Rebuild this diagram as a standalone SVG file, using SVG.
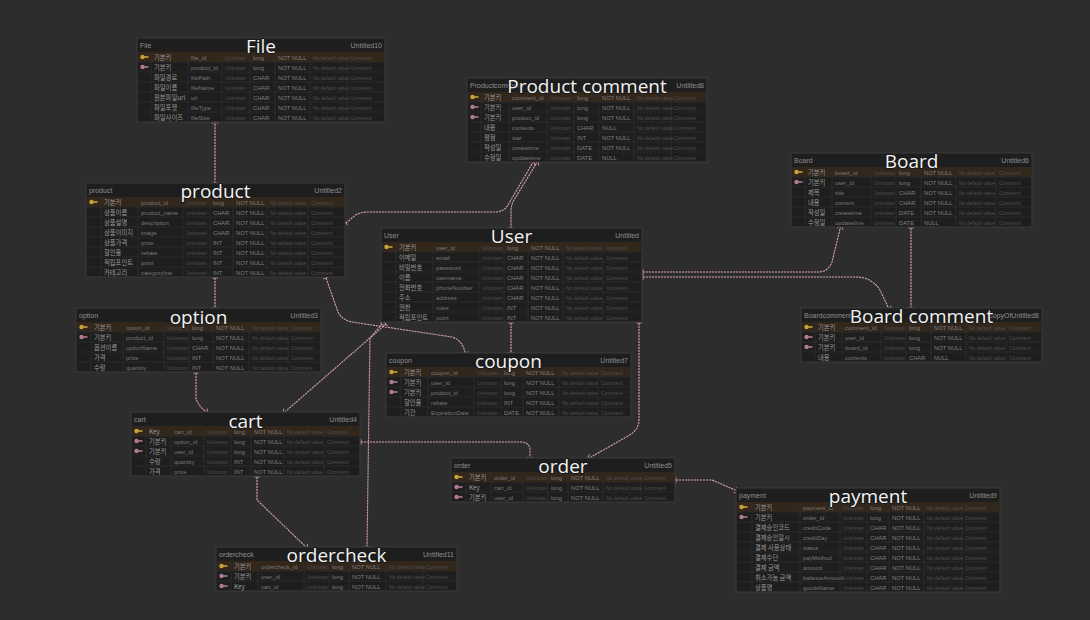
<svg xmlns="http://www.w3.org/2000/svg" width="1090" height="620" viewBox="0 0 1090 620">
<defs>
<style>
.tb{fill:#1e1e1e;stroke:#3a3a3a;stroke-width:1}
.pk{fill:#33261b}
.rl{stroke:#2c2c2c;stroke-width:0.8}
.cl{stroke:#2e2e2e;stroke-width:0.8}
.hl{font-family:"Liberation Sans","Noto Sans CJK KR",sans-serif;font-size:7px;fill:#8e8e8e}
.hr{font-family:"Liberation Sans","Noto Sans CJK KR",sans-serif;font-size:7px;fill:#8e8e8e;text-anchor:end}
.ti{font-family:"Open Sans","Noto Sans",sans-serif;font-size:19px;fill:#f2f2f2;text-anchor:middle;paint-order:stroke;stroke:#1a1a1a;stroke-width:2px}
.r{font-family:"Liberation Sans","Noto Sans CJK KR",sans-serif;font-size:5.8px}
.l{fill:#9a9a9a;font-family:"Noto Sans CJK KR",sans-serif;font-size:6.3px}
.p{fill:#7a7a7a}
.t{fill:#7f7f7f}
.d{fill:#505050;font-size:5px}
.cn{fill:none;stroke:#d3a0ae;stroke-width:1.1;stroke-dasharray:2.2 0.8}
.ky{fill:#c9a23a}
.kf{fill:#b07a96}
</style>
<g id="kY"><circle cx="4.5" cy="5" r="2.2" class="ky"/><rect x="5.5" y="4.2" width="5" height="1.6" class="ky"/></g>
<g id="kF"><circle cx="4.5" cy="5" r="2.2" class="kf"/><rect x="5.5" y="4.2" width="5" height="1.6" class="kf"/></g>
<marker id="mo" viewBox="0 0 10 10" refX="1" refY="5" markerWidth="7" markerHeight="7" orient="auto-start-reverse" markerUnits="userSpaceOnUse">
<path d="M1 1 V9" stroke="#d3a0ae" stroke-width="1.2" fill="none"/>
</marker>
<marker id="mm" viewBox="0 0 10 10" refX="1" refY="5" markerWidth="8" markerHeight="8" orient="auto-start-reverse" markerUnits="userSpaceOnUse">
<path d="M1 1 L6 5 L1 9 M6 5 H1" stroke="#d3a0ae" stroke-width="1" fill="none"/>
<circle cx="7.5" cy="5" r="1.6" stroke="#d3a0ae" stroke-width="1" fill="none"/>
</marker>
</defs>
<rect width="1090" height="620" fill="#2d2d2d"/>

<g id="connectors">
<path class="cn" d="M215,124 L215,183" marker-start="url(#mm)" marker-end="url(#mo)"/>
<path class="cn" d="M532,164 L508,205 Q504,212 495,212 L368,212 Q358,212 352,218 L346,223" marker-start="url(#mm)" marker-end="url(#mo)"/>
<path class="cn" d="M536,164 L514,200 Q511,205 511,212 L511,228" marker-start="url(#mm)" marker-end="url(#mo)"/>
<path class="cn" d="M643,272 L818,272 Q828,272 832,262 L840,229" marker-start="url(#mo)" marker-end="url(#mm)"/>
<path class="cn" d="M643,277 L858,277 Q872,278 880,290 L888,307" marker-start="url(#mo)" marker-end="url(#mm)"/>
<path class="cn" d="M911,228 L911,307" marker-start="url(#mo)" marker-end="url(#mm)"/>
<path class="cn" d="M215,278 L215,307" marker-start="url(#mo)" marker-end="url(#mm)"/>
<path class="cn" d="M326,278 L338,312 Q342,320 352,322 L452,337 Q462,340 465,352" marker-start="url(#mo)" marker-end="url(#mm)"/>
<path class="cn" d="M511,323 L511,352" marker-start="url(#mo)" marker-end="url(#mm)"/>
<path class="cn" d="M386,324 L286,411" marker-start="url(#mo)" marker-end="url(#mm)"/>
<path class="cn" d="M382,324 L370,338 L367,546" marker-start="url(#mo)" marker-end="url(#mm)"/>
<path class="cn" d="M196,373 L196,398 Q197,404 205,411" marker-start="url(#mo)" marker-end="url(#mm)"/>
<path class="cn" d="M639,323 L639,420 Q639,430 628,436 L591,457" marker-start="url(#mo)" marker-end="url(#mm)"/>
<path class="cn" d="M361,442 L522,442 Q530,443 530,450 L530,457" marker-start="url(#mo)" marker-end="url(#mm)"/>
<path class="cn" d="M257,477 L257,500 L305,546" marker-start="url(#mo)" marker-end="url(#mm)"/>
<path class="cn" d="M676,480 L712,480 L735,490" marker-start="url(#mo)" marker-end="url(#mm)"/>
</g>

<!-- File -->
<g id="file" transform="translate(137,38)">
<rect class="tb" x="0" y="0" width="248" height="84"/>
<rect class="pk" x="1" y="14" width="246" height="10"/>
<path class="rl" d="M1 24H247M1 34H247M1 44H247M1 54H247M1 64H247M1 74H247"/>
<path class="cl" d="M14 14V84M51 14V84M85 14V84M113 14V84M138 14V84M173 14V84M210 14V84"/>
<text class="hl" x="3" y="9.5">File</text><text class="hr" x="245" y="9.5">Untitled10</text>
<use href="#kY" x="1" y="14"/><use href="#kF" x="1" y="24"/>
<g class="r">
<text y="21.5"><tspan x="17" class="l">기본키</tspan><tspan x="54" class="p">file_id</tspan><tspan x="88" class="d">Unknown</tspan><tspan x="116" class="t">long</tspan><tspan x="141" class="t">NOT NULL</tspan><tspan x="176" class="d">No default value</tspan><tspan x="213" class="d">Comment</tspan></text>
<text y="31.5"><tspan x="17" class="l">기본키</tspan><tspan x="54" class="p">product_id</tspan><tspan x="88" class="d">Unknown</tspan><tspan x="116" class="t">long</tspan><tspan x="141" class="t">NOT NULL</tspan><tspan x="176" class="d">No default value</tspan><tspan x="213" class="d">Comment</tspan></text>
<text y="41.5"><tspan x="17" class="l">파일경로</tspan><tspan x="54" class="p">filePath</tspan><tspan x="88" class="d">Unknown</tspan><tspan x="116" class="t">CHAR</tspan><tspan x="141" class="t">NOT NULL</tspan><tspan x="176" class="d">No default value</tspan><tspan x="213" class="d">Comment</tspan></text>
<text y="51.5"><tspan x="17" class="l">파일이름</tspan><tspan x="54" class="p">fileName</tspan><tspan x="88" class="d">Unknown</tspan><tspan x="116" class="t">CHAR</tspan><tspan x="141" class="t">NOT NULL</tspan><tspan x="176" class="d">No default value</tspan><tspan x="213" class="d">Comment</tspan></text>
<text y="61.5"><tspan x="17" class="l">원본파일url</tspan><tspan x="54" class="p">url</tspan><tspan x="88" class="d">Unknown</tspan><tspan x="116" class="t">CHAR</tspan><tspan x="141" class="t">NOT NULL</tspan><tspan x="176" class="d">No default value</tspan><tspan x="213" class="d">Comment</tspan></text>
<text y="71.5"><tspan x="17" class="l">파일포맷</tspan><tspan x="54" class="p">fileType</tspan><tspan x="88" class="d">Unknown</tspan><tspan x="116" class="t">CHAR</tspan><tspan x="141" class="t">NOT NULL</tspan><tspan x="176" class="d">No default value</tspan><tspan x="213" class="d">Comment</tspan></text>
<text y="81.5"><tspan x="17" class="l">파일사이즈</tspan><tspan x="54" class="p">fileSize</tspan><tspan x="88" class="d">Unknown</tspan><tspan x="116" class="t">CHAR</tspan><tspan x="141" class="t">NOT NULL</tspan><tspan x="176" class="d">No default value</tspan><tspan x="213" class="d">Comment</tspan></text>
</g>
<text class="ti" x="124" y="15">File</text>
</g>

<!-- Product comment -->
<g id="product-comment" transform="translate(467,78)">
<rect class="tb" x="0" y="0" width="240" height="84"/>
<rect class="pk" x="1" y="14" width="238" height="10"/>
<path class="rl" d="M1 24H239M1 34H239M1 44H239M1 54H239M1 64H239M1 74H239"/>
<path class="cl" d="M14 14V84M42 14V84M80 14V84M107 14V84M132 14V84M167 14V84M204 14V84"/>
<text class="hl" x="3" y="9.5">Productcomment</text><text class="hr" x="237" y="9.5">Untitled8</text>
<use href="#kY" x="1" y="14"/><use href="#kF" x="1" y="24"/><use href="#kF" x="1" y="34"/>
<g class="r">
<text y="21.5"><tspan x="17" class="l">기본키</tspan><tspan x="45" class="p">comment_id</tspan><tspan x="83" class="d">Unknown</tspan><tspan x="110" class="t">long</tspan><tspan x="135" class="t">NOT NULL</tspan><tspan x="170" class="d">No default value</tspan><tspan x="207" class="d">Comment</tspan></text>
<text y="31.5"><tspan x="17" class="l">기본키</tspan><tspan x="45" class="p">user_id</tspan><tspan x="83" class="d">Unknown</tspan><tspan x="110" class="t">long</tspan><tspan x="135" class="t">NOT NULL</tspan><tspan x="170" class="d">No default value</tspan><tspan x="207" class="d">Comment</tspan></text>
<text y="41.5"><tspan x="17" class="l">기본키</tspan><tspan x="45" class="p">product_id</tspan><tspan x="83" class="d">Unknown</tspan><tspan x="110" class="t">long</tspan><tspan x="135" class="t">NOT NULL</tspan><tspan x="170" class="d">No default value</tspan><tspan x="207" class="d">Comment</tspan></text>
<text y="51.5"><tspan x="17" class="l">내용</tspan><tspan x="45" class="p">contents</tspan><tspan x="83" class="d">Unknown</tspan><tspan x="110" class="t">CHAR</tspan><tspan x="135" class="t">NULL</tspan><tspan x="170" class="d">No default value</tspan><tspan x="207" class="d">Comment</tspan></text>
<text y="61.5"><tspan x="17" class="l">평점</tspan><tspan x="45" class="p">star</tspan><tspan x="83" class="d">Unknown</tspan><tspan x="110" class="t">INT</tspan><tspan x="135" class="t">NOT NULL</tspan><tspan x="170" class="d">No default value</tspan><tspan x="207" class="d">Comment</tspan></text>
<text y="71.5"><tspan x="17" class="l">작성일</tspan><tspan x="45" class="p">createtime</tspan><tspan x="83" class="d">Unknown</tspan><tspan x="110" class="t">DATE</tspan><tspan x="135" class="t">NOT NULL</tspan><tspan x="170" class="d">No default value</tspan><tspan x="207" class="d">Comment</tspan></text>
<text y="81.5"><tspan x="17" class="l">수정일</tspan><tspan x="45" class="p">updatetime</tspan><tspan x="83" class="d">Unknown</tspan><tspan x="110" class="t">DATE</tspan><tspan x="135" class="t">NULL</tspan><tspan x="170" class="d">No default value</tspan><tspan x="207" class="d">Comment</tspan></text>
</g>
<text class="ti" x="120" y="15">Product comment</text>
</g>

<!-- product -->
<g id="product" transform="translate(86,183)">
<rect class="tb" x="0" y="0" width="259" height="94"/>
<rect class="pk" x="1" y="14" width="257" height="10"/>
<path class="rl" d="M1 24H258M1 34H258M1 44H258M1 54H258M1 64H258M1 74H258M1 84H258"/>
<path class="cl" d="M15 14V94M52 14V94M97 14V94M124 14V94M147 14V94M181 14V94M222 14V94"/>
<text class="hl" x="3" y="9.5">product</text><text class="hr" x="256" y="9.5">Untitled2</text>
<use href="#kY" x="1" y="14"/>
<g class="r">
<text y="21.5"><tspan x="18" class="l">기본키</tspan><tspan x="55" class="p">product_id</tspan><tspan x="100" class="d">Unknown</tspan><tspan x="127" class="t">long</tspan><tspan x="150" class="t">NOT NULL</tspan><tspan x="184" class="d">No default value</tspan><tspan x="225" class="d">Comment</tspan></text>
<text y="31.5"><tspan x="18" class="l">상품이름</tspan><tspan x="55" class="p">product_name</tspan><tspan x="100" class="d">Unknown</tspan><tspan x="127" class="t">CHAR</tspan><tspan x="150" class="t">NOT NULL</tspan><tspan x="184" class="d">No default value</tspan><tspan x="225" class="d">Comment</tspan></text>
<text y="41.5"><tspan x="18" class="l">상품설명</tspan><tspan x="55" class="p">description</tspan><tspan x="100" class="d">Unknown</tspan><tspan x="127" class="t">CHAR</tspan><tspan x="150" class="t">NOT NULL</tspan><tspan x="184" class="d">No default value</tspan><tspan x="225" class="d">Comment</tspan></text>
<text y="51.5"><tspan x="18" class="l">상품이미지</tspan><tspan x="55" class="p">image</tspan><tspan x="100" class="d">Unknown</tspan><tspan x="127" class="t">CHAR</tspan><tspan x="150" class="t">NOT NULL</tspan><tspan x="184" class="d">No default value</tspan><tspan x="225" class="d">Comment</tspan></text>
<text y="61.5"><tspan x="18" class="l">상품가격</tspan><tspan x="55" class="p">price</tspan><tspan x="100" class="d">Unknown</tspan><tspan x="127" class="t">INT</tspan><tspan x="150" class="t">NOT NULL</tspan><tspan x="184" class="d">No default value</tspan><tspan x="225" class="d">Comment</tspan></text>
<text y="71.5"><tspan x="18" class="l">할인율</tspan><tspan x="55" class="p">rebate</tspan><tspan x="100" class="d">Unknown</tspan><tspan x="127" class="t">INT</tspan><tspan x="150" class="t">NOT NULL</tspan><tspan x="184" class="d">No default value</tspan><tspan x="225" class="d">Comment</tspan></text>
<text y="81.5"><tspan x="18" class="l">적립포인트</tspan><tspan x="55" class="p">point</tspan><tspan x="100" class="d">Unknown</tspan><tspan x="127" class="t">INT</tspan><tspan x="150" class="t">NOT NULL</tspan><tspan x="184" class="d">No default value</tspan><tspan x="225" class="d">Comment</tspan></text>
<text y="91.5"><tspan x="18" class="l">카테고리</tspan><tspan x="55" class="p">categoryline</tspan><tspan x="100" class="d">Unknown</tspan><tspan x="127" class="t">INT</tspan><tspan x="150" class="t">NOT NULL</tspan><tspan x="184" class="d">No default value</tspan><tspan x="225" class="d">Comment</tspan></text>
</g>
<text class="ti" x="129.5" y="15">product</text>
</g>

<!-- User -->
<g id="user" transform="translate(381,228)">
<rect class="tb" x="0" y="0" width="261" height="94"/>
<rect class="pk" x="1" y="14" width="259" height="10"/>
<path class="rl" d="M1 24H260M1 34H260M1 44H260M1 54H260M1 64H260M1 74H260M1 84H260"/>
<path class="cl" d="M15 14V94M52 14V94M98 14V94M123 14V94M147 14V94M182 14V94M222 14V94"/>
<text class="hl" x="3" y="9.5">User</text><text class="hr" x="258" y="9.5">Untitled</text>
<use href="#kY" x="1" y="14"/>
<g class="r">
<text y="21.5"><tspan x="18" class="l">기본키</tspan><tspan x="55" class="p">user_id</tspan><tspan x="101" class="d">Unknown</tspan><tspan x="126" class="t">long</tspan><tspan x="150" class="t">NOT NULL</tspan><tspan x="185" class="d">No default value</tspan><tspan x="225" class="d">Comment</tspan></text>
<text y="31.5"><tspan x="18" class="l">이메일</tspan><tspan x="55" class="p">email</tspan><tspan x="101" class="d">Unknown</tspan><tspan x="126" class="t">CHAR</tspan><tspan x="150" class="t">NOT NULL</tspan><tspan x="185" class="d">No default value</tspan><tspan x="225" class="d">Comment</tspan></text>
<text y="41.5"><tspan x="18" class="l">비밀번호</tspan><tspan x="55" class="p">password</tspan><tspan x="101" class="d">Unknown</tspan><tspan x="126" class="t">CHAR</tspan><tspan x="150" class="t">NOT NULL</tspan><tspan x="185" class="d">No default value</tspan><tspan x="225" class="d">Comment</tspan></text>
<text y="51.5"><tspan x="18" class="l">이름</tspan><tspan x="55" class="p">username</tspan><tspan x="101" class="d">Unknown</tspan><tspan x="126" class="t">CHAR</tspan><tspan x="150" class="t">NOT NULL</tspan><tspan x="185" class="d">No default value</tspan><tspan x="225" class="d">Comment</tspan></text>
<text y="61.5"><tspan x="18" class="l">전화번호</tspan><tspan x="55" class="p">phoneNumber</tspan><tspan x="101" class="d">Unknown</tspan><tspan x="126" class="t">CHAR</tspan><tspan x="150" class="t">NOT NULL</tspan><tspan x="185" class="d">No default value</tspan><tspan x="225" class="d">Comment</tspan></text>
<text y="71.5"><tspan x="18" class="l">주소</tspan><tspan x="55" class="p">address</tspan><tspan x="101" class="d">Unknown</tspan><tspan x="126" class="t">CHAR</tspan><tspan x="150" class="t">NOT NULL</tspan><tspan x="185" class="d">No default value</tspan><tspan x="225" class="d">Comment</tspan></text>
<text y="81.5"><tspan x="18" class="l">권한</tspan><tspan x="55" class="p">roles</tspan><tspan x="101" class="d">Unknown</tspan><tspan x="126" class="t">INT</tspan><tspan x="150" class="t">NOT NULL</tspan><tspan x="185" class="d">No default value</tspan><tspan x="225" class="d">Comment</tspan></text>
<text y="91.5"><tspan x="18" class="l">적립포인트</tspan><tspan x="55" class="p">point</tspan><tspan x="101" class="d">Unknown</tspan><tspan x="126" class="t">INT</tspan><tspan x="150" class="t">NOT NULL</tspan><tspan x="185" class="d">No default value</tspan><tspan x="225" class="d">Comment</tspan></text>
</g>
<text class="ti" x="130.5" y="15">User</text>
</g>

<!-- Board -->
<g id="board" transform="translate(791,153)">
<rect class="tb" x="0" y="0" width="241" height="74"/>
<rect class="pk" x="1" y="14" width="239" height="10"/>
<path class="rl" d="M1 24H240M1 34H240M1 44H240M1 54H240M1 64H240"/>
<path class="cl" d="M14 14V74M41 14V74M80 14V74M105 14V74M130 14V74M165 14V74M205 14V74"/>
<text class="hl" x="3" y="9.5">Board</text><text class="hr" x="238" y="9.5">Untitled6</text>
<use href="#kY" x="1" y="14"/><use href="#kF" x="1" y="24"/>
<g class="r">
<text y="21.5"><tspan x="17" class="l">기본키</tspan><tspan x="44" class="p">board_id</tspan><tspan x="83" class="d">Unknown</tspan><tspan x="108" class="t">long</tspan><tspan x="133" class="t">NOT NULL</tspan><tspan x="168" class="d">No default value</tspan><tspan x="208" class="d">Comment</tspan></text>
<text y="31.5"><tspan x="17" class="l">기본키</tspan><tspan x="44" class="p">user_id</tspan><tspan x="83" class="d">Unknown</tspan><tspan x="108" class="t">long</tspan><tspan x="133" class="t">NOT NULL</tspan><tspan x="168" class="d">No default value</tspan><tspan x="208" class="d">Comment</tspan></text>
<text y="41.5"><tspan x="17" class="l">제목</tspan><tspan x="44" class="p">title</tspan><tspan x="83" class="d">Unknown</tspan><tspan x="108" class="t">CHAR</tspan><tspan x="133" class="t">NOT NULL</tspan><tspan x="168" class="d">No default value</tspan><tspan x="208" class="d">Comment</tspan></text>
<text y="51.5"><tspan x="17" class="l">내용</tspan><tspan x="44" class="p">content</tspan><tspan x="83" class="d">Unknown</tspan><tspan x="108" class="t">CHAR</tspan><tspan x="133" class="t">NOT NULL</tspan><tspan x="168" class="d">No default value</tspan><tspan x="208" class="d">Comment</tspan></text>
<text y="61.5"><tspan x="17" class="l">작성일</tspan><tspan x="44" class="p">createtime</tspan><tspan x="83" class="d">Unknown</tspan><tspan x="108" class="t">DATE</tspan><tspan x="133" class="t">NOT NULL</tspan><tspan x="168" class="d">No default value</tspan><tspan x="208" class="d">Comment</tspan></text>
<text y="71.5"><tspan x="17" class="l">수정일</tspan><tspan x="44" class="p">updatetime</tspan><tspan x="83" class="d">Unknown</tspan><tspan x="108" class="t">DATE</tspan><tspan x="133" class="t">NULL</tspan><tspan x="168" class="d">No default value</tspan><tspan x="208" class="d">Comment</tspan></text>
</g>
<text class="ti" x="120.5" y="15">Board</text>
</g>

<!-- Board comment -->
<g id="board-comment" transform="translate(801,308)">
<rect class="tb" x="0" y="0" width="241" height="54"/>
<rect class="pk" x="1" y="14" width="239" height="10"/>
<path class="rl" d="M1 24H240M1 34H240M1 44H240"/>
<path class="cl" d="M14 14V54M41 14V54M80 14V54M105 14V54M130 14V54M165 14V54M205 14V54"/>
<text class="hl" x="3" y="9.5">Boardcomment</text><text class="hr" x="238" y="9.5">copyOfUntitled8</text>
<use href="#kY" x="1" y="14"/><use href="#kF" x="1" y="24"/><use href="#kF" x="1" y="34"/>
<g class="r">
<text y="21.5"><tspan x="17" class="l">기본키</tspan><tspan x="44" class="p">comment_id</tspan><tspan x="83" class="d">Unknown</tspan><tspan x="108" class="t">long</tspan><tspan x="133" class="t">NOT NULL</tspan><tspan x="168" class="d">No default value</tspan><tspan x="208" class="d">Comment</tspan></text>
<text y="31.5"><tspan x="17" class="l">기본키</tspan><tspan x="44" class="p">user_id</tspan><tspan x="83" class="d">Unknown</tspan><tspan x="108" class="t">long</tspan><tspan x="133" class="t">NOT NULL</tspan><tspan x="168" class="d">No default value</tspan><tspan x="208" class="d">Comment</tspan></text>
<text y="41.5"><tspan x="17" class="l">기본키</tspan><tspan x="44" class="p">board_id</tspan><tspan x="83" class="d">Unknown</tspan><tspan x="108" class="t">long</tspan><tspan x="133" class="t">NOT NULL</tspan><tspan x="168" class="d">No default value</tspan><tspan x="208" class="d">Comment</tspan></text>
<text y="51.5"><tspan x="17" class="l">내용</tspan><tspan x="44" class="p">contents</tspan><tspan x="83" class="d">Unknown</tspan><tspan x="108" class="t">CHAR</tspan><tspan x="133" class="t">NULL</tspan><tspan x="168" class="d">No default value</tspan><tspan x="208" class="d">Comment</tspan></text>
</g>
<text class="ti" x="120.5" y="15">Board comment</text>
</g>

<!-- option -->
<g id="option" transform="translate(76,308)">
<rect class="tb" x="0" y="0" width="245" height="64"/>
<rect class="pk" x="1" y="14" width="243" height="10"/>
<path class="rl" d="M1 24H244M1 34H244M1 44H244M1 54H244"/>
<path class="cl" d="M15 14V64M47 14V64M88 14V64M113 14V64M137 14V64M173 14V64M212 14V64"/>
<text class="hl" x="3" y="9.5">option</text><text class="hr" x="242" y="9.5">Untitled3</text>
<use href="#kY" x="1" y="14"/><use href="#kF" x="1" y="24"/>
<g class="r">
<text y="21.5"><tspan x="18" class="l">기본키</tspan><tspan x="50" class="p">option_id</tspan><tspan x="91" class="d">Unknown</tspan><tspan x="116" class="t">long</tspan><tspan x="140" class="t">NOT NULL</tspan><tspan x="176" class="d">No default value</tspan><tspan x="215" class="d">Comment</tspan></text>
<text y="31.5"><tspan x="18" class="l">기본키</tspan><tspan x="50" class="p">product_id</tspan><tspan x="91" class="d">Unknown</tspan><tspan x="116" class="t">long</tspan><tspan x="140" class="t">NOT NULL</tspan><tspan x="176" class="d">No default value</tspan><tspan x="215" class="d">Comment</tspan></text>
<text y="41.5"><tspan x="18" class="l">옵션이름</tspan><tspan x="50" class="p">optionName</tspan><tspan x="91" class="d">Unknown</tspan><tspan x="116" class="t">CHAR</tspan><tspan x="140" class="t">NOT NULL</tspan><tspan x="176" class="d">No default value</tspan><tspan x="215" class="d">Comment</tspan></text>
<text y="51.5"><tspan x="18" class="l">가격</tspan><tspan x="50" class="p">price</tspan><tspan x="91" class="d">Unknown</tspan><tspan x="116" class="t">INT</tspan><tspan x="140" class="t">NOT NULL</tspan><tspan x="176" class="d">No default value</tspan><tspan x="215" class="d">Comment</tspan></text>
<text y="61.5"><tspan x="18" class="l">수량</tspan><tspan x="50" class="p">quantity</tspan><tspan x="91" class="d">Unknown</tspan><tspan x="116" class="t">INT</tspan><tspan x="140" class="t">NOT NULL</tspan><tspan x="176" class="d">No default value</tspan><tspan x="215" class="d">Comment</tspan></text>
</g>
<text class="ti" x="122.5" y="16">option</text>
</g>

<!-- coupon -->
<g id="coupon" transform="translate(386,353)">
<rect class="tb" x="0" y="0" width="245" height="64"/>
<rect class="pk" x="1" y="14" width="243" height="10"/>
<path class="rl" d="M1 24H244M1 34H244M1 44H244M1 54H244"/>
<path class="cl" d="M15 14V64M42 14V64M88 14V64M115 14V64M137 14V64M173 14V64M212 14V64"/>
<text class="hl" x="3" y="9.5">coupon</text><text class="hr" x="242" y="9.5">Untitled7</text>
<use href="#kY" x="1" y="14"/><use href="#kF" x="1" y="24"/><use href="#kF" x="1" y="34"/>
<g class="r">
<text y="21.5"><tspan x="18" class="l">기본키</tspan><tspan x="45" class="p">coupon_id</tspan><tspan x="91" class="d">Unknown</tspan><tspan x="118" class="t">long</tspan><tspan x="140" class="t">NOT NULL</tspan><tspan x="176" class="d">No default value</tspan><tspan x="215" class="d">Comment</tspan></text>
<text y="31.5"><tspan x="18" class="l">기본키</tspan><tspan x="45" class="p">user_id</tspan><tspan x="91" class="d">Unknown</tspan><tspan x="118" class="t">long</tspan><tspan x="140" class="t">NOT NULL</tspan><tspan x="176" class="d">No default value</tspan><tspan x="215" class="d">Comment</tspan></text>
<text y="41.5"><tspan x="18" class="l">기본키</tspan><tspan x="45" class="p">product_id</tspan><tspan x="91" class="d">Unknown</tspan><tspan x="118" class="t">long</tspan><tspan x="140" class="t">NOT NULL</tspan><tspan x="176" class="d">No default value</tspan><tspan x="215" class="d">Comment</tspan></text>
<text y="51.5"><tspan x="18" class="l">할인율</tspan><tspan x="45" class="p">rebate</tspan><tspan x="91" class="d">Unknown</tspan><tspan x="118" class="t">INT</tspan><tspan x="140" class="t">NOT NULL</tspan><tspan x="176" class="d">No default value</tspan><tspan x="215" class="d">Comment</tspan></text>
<text y="61.5"><tspan x="18" class="l">기간</tspan><tspan x="45" class="p">ExpirationDate</tspan><tspan x="91" class="d">Unknown</tspan><tspan x="118" class="t">DATE</tspan><tspan x="140" class="t">NOT NULL</tspan><tspan x="176" class="d">No default value</tspan><tspan x="215" class="d">Comment</tspan></text>
</g>
<text class="ti" x="122.5" y="15">coupon</text>
</g>

<!-- cart -->
<g id="cart" transform="translate(131,412)">
<rect class="tb" x="0" y="0" width="229" height="64"/>
<rect class="pk" x="1" y="14" width="227" height="10"/>
<path class="rl" d="M1 24H228M1 34H228M1 44H228M1 54H228"/>
<path class="cl" d="M15 14V64M40 14V64M73 14V64M100 14V64M120 14V64M153 14V64M193 14V64"/>
<text class="hl" x="3" y="9.5">cart</text><text class="hr" x="226" y="9.5">Untitled4</text>
<use href="#kY" x="1" y="14"/><use href="#kF" x="1" y="24"/><use href="#kF" x="1" y="34"/>
<g class="r">
<text y="21.5"><tspan x="18" class="l">Key</tspan><tspan x="43" class="p">cart_id</tspan><tspan x="76" class="d">Unknown</tspan><tspan x="103" class="t">long</tspan><tspan x="123" class="t">NOT NULL</tspan><tspan x="156" class="d">No default value</tspan><tspan x="196" class="d">Comment</tspan></text>
<text y="31.5"><tspan x="18" class="l">기본키</tspan><tspan x="43" class="p">option_id</tspan><tspan x="76" class="d">Unknown</tspan><tspan x="103" class="t">long</tspan><tspan x="123" class="t">NOT NULL</tspan><tspan x="156" class="d">No default value</tspan><tspan x="196" class="d">Comment</tspan></text>
<text y="41.5"><tspan x="18" class="l">기본키</tspan><tspan x="43" class="p">user_id</tspan><tspan x="76" class="d">Unknown</tspan><tspan x="103" class="t">long</tspan><tspan x="123" class="t">NOT NULL</tspan><tspan x="156" class="d">No default value</tspan><tspan x="196" class="d">Comment</tspan></text>
<text y="51.5"><tspan x="18" class="l">수량</tspan><tspan x="43" class="p">quantity</tspan><tspan x="76" class="d">Unknown</tspan><tspan x="103" class="t">INT</tspan><tspan x="123" class="t">NOT NULL</tspan><tspan x="156" class="d">No default value</tspan><tspan x="196" class="d">Comment</tspan></text>
<text y="61.5"><tspan x="18" class="l">가격</tspan><tspan x="43" class="p">price</tspan><tspan x="76" class="d">Unknown</tspan><tspan x="103" class="t">INT</tspan><tspan x="123" class="t">NOT NULL</tspan><tspan x="156" class="d">No default value</tspan><tspan x="196" class="d">Comment</tspan></text>
</g>
<text class="ti" x="114.5" y="16">cart</text>
</g>

<!-- order -->
<g id="order" transform="translate(451,458)">
<rect class="tb" x="0" y="0" width="224" height="44"/>
<rect class="pk" x="1" y="14" width="222" height="10"/>
<path class="rl" d="M1 24H223M1 34H223"/>
<path class="cl" d="M15 14V44M40 14V44M72 14V44M97 14V44M117 14V44M152 14V44M190 14V44"/>
<text class="hl" x="3" y="9.5">order</text><text class="hr" x="221" y="9.5">Untitled5</text>
<use href="#kY" x="1" y="14"/><use href="#kF" x="1" y="24"/><use href="#kF" x="1" y="34"/>
<g class="r">
<text y="21.5"><tspan x="18" class="l">기본키</tspan><tspan x="43" class="p">order_id</tspan><tspan x="75" class="d">Unknown</tspan><tspan x="100" class="t">long</tspan><tspan x="120" class="t">NOT NULL</tspan><tspan x="155" class="d">No default value</tspan><tspan x="193" class="d">Comment</tspan></text>
<text y="31.5"><tspan x="18" class="l">Key</tspan><tspan x="43" class="p">cart_id</tspan><tspan x="75" class="d">Unknown</tspan><tspan x="100" class="t">long</tspan><tspan x="120" class="t">NOT NULL</tspan><tspan x="155" class="d">No default value</tspan><tspan x="193" class="d">Comment</tspan></text>
<text y="41.5"><tspan x="18" class="l">기본키</tspan><tspan x="43" class="p">user_id</tspan><tspan x="75" class="d">Unknown</tspan><tspan x="100" class="t">long</tspan><tspan x="120" class="t">NOT NULL</tspan><tspan x="155" class="d">No default value</tspan><tspan x="193" class="d">Comment</tspan></text>
</g>
<text class="ti" x="112" y="15">order</text>
</g>

<!-- payment -->
<g id="payment" transform="translate(736,488)">
<rect class="tb" x="0" y="0" width="264" height="104"/>
<rect class="pk" x="1" y="14" width="262" height="10"/>
<path class="rl" d="M1 24H263M1 34H263M1 44H263M1 54H263M1 64H263M1 74H263M1 84H263M1 94H263"/>
<path class="cl" d="M16 14V104M64 14V104M104 14V104M131 14V104M153 14V104M188 14V104M226 14V104"/>
<text class="hl" x="3" y="9.5">payment</text><text class="hr" x="261" y="9.5">Untitled9</text>
<use href="#kY" x="1" y="14"/><use href="#kF" x="1" y="24"/>
<g class="r">
<text y="21.5"><tspan x="19" class="l">기본키</tspan><tspan x="67" class="p">payment_id</tspan><tspan x="107" class="d">Unknown</tspan><tspan x="134" class="t">long</tspan><tspan x="156" class="t">NOT NULL</tspan><tspan x="191" class="d">No default value</tspan><tspan x="229" class="d">Comment</tspan></text>
<text y="31.5"><tspan x="19" class="l">기본키</tspan><tspan x="67" class="p">order_id</tspan><tspan x="107" class="d">Unknown</tspan><tspan x="134" class="t">long</tspan><tspan x="156" class="t">NOT NULL</tspan><tspan x="191" class="d">No default value</tspan><tspan x="229" class="d">Comment</tspan></text>
<text y="41.5"><tspan x="19" class="l">결제승인코드</tspan><tspan x="67" class="p">creditCode</tspan><tspan x="107" class="d">Unknown</tspan><tspan x="134" class="t">CHAR</tspan><tspan x="156" class="t">NOT NULL</tspan><tspan x="191" class="d">No default value</tspan><tspan x="229" class="d">Comment</tspan></text>
<text y="51.5"><tspan x="19" class="l">결제승인일시</tspan><tspan x="67" class="p">creditDay</tspan><tspan x="107" class="d">Unknown</tspan><tspan x="134" class="t">CHAR</tspan><tspan x="156" class="t">NOT NULL</tspan><tspan x="191" class="d">No default value</tspan><tspan x="229" class="d">Comment</tspan></text>
<text y="61.5"><tspan x="19" class="l">결제 사용상태</tspan><tspan x="67" class="p">status</tspan><tspan x="107" class="d">Unknown</tspan><tspan x="134" class="t">CHAR</tspan><tspan x="156" class="t">NOT NULL</tspan><tspan x="191" class="d">No default value</tspan><tspan x="229" class="d">Comment</tspan></text>
<text y="71.5"><tspan x="19" class="l">결제수단</tspan><tspan x="67" class="p">payMethod</tspan><tspan x="107" class="d">Unknown</tspan><tspan x="134" class="t">CHAR</tspan><tspan x="156" class="t">NOT NULL</tspan><tspan x="191" class="d">No default value</tspan><tspan x="229" class="d">Comment</tspan></text>
<text y="81.5"><tspan x="19" class="l">결제 금액</tspan><tspan x="67" class="p">amount</tspan><tspan x="107" class="d">Unknown</tspan><tspan x="134" class="t">CHAR</tspan><tspan x="156" class="t">NOT NULL</tspan><tspan x="191" class="d">No default value</tspan><tspan x="229" class="d">Comment</tspan></text>
<text y="91.5"><tspan x="19" class="l">취소가능 금액</tspan><tspan x="67" class="p">balanceAmount</tspan><tspan x="107" class="d">Unknown</tspan><tspan x="134" class="t">CHAR</tspan><tspan x="156" class="t">NOT NULL</tspan><tspan x="191" class="d">No default value</tspan><tspan x="229" class="d">Comment</tspan></text>
<text y="101.5"><tspan x="19" class="l">상품명</tspan><tspan x="67" class="p">goodsName</tspan><tspan x="107" class="d">Unknown</tspan><tspan x="134" class="t">CHAR</tspan><tspan x="156" class="t">NOT NULL</tspan><tspan x="191" class="d">No default value</tspan><tspan x="229" class="d">Comment</tspan></text>
</g>
<text class="ti" x="132" y="15">payment</text>
</g>

<!-- ordercheck -->
<g id="ordercheck" transform="translate(216,547)">
<rect class="tb" x="0" y="0" width="241" height="44"/>
<rect class="pk" x="1" y="14" width="239" height="10"/>
<path class="rl" d="M1 24H240M1 34H240"/>
<path class="cl" d="M15 14V44M42 14V44M88 14V44M113 14V44M133 14V44M170 14V44M207 14V44"/>
<text class="hl" x="3" y="9.5">ordercheck</text><text class="hr" x="238" y="9.5">Untitled11</text>
<use href="#kY" x="1" y="14"/><use href="#kF" x="1" y="24"/><use href="#kF" x="1" y="34"/>
<g class="r">
<text y="21.5"><tspan x="18" class="l">기본키</tspan><tspan x="45" class="p">ordercheck_id</tspan><tspan x="91" class="d">Unknown</tspan><tspan x="116" class="t">long</tspan><tspan x="136" class="t">NOT NULL</tspan><tspan x="173" class="d">No default value</tspan><tspan x="210" class="d">Comment</tspan></text>
<text y="31.5"><tspan x="18" class="l">기본키</tspan><tspan x="45" class="p">user_id</tspan><tspan x="91" class="d">Unknown</tspan><tspan x="116" class="t">long</tspan><tspan x="136" class="t">NOT NULL</tspan><tspan x="173" class="d">No default value</tspan><tspan x="210" class="d">Comment</tspan></text>
<text y="41.5"><tspan x="18" class="l">Key</tspan><tspan x="45" class="p">cart_id</tspan><tspan x="91" class="d">Unknown</tspan><tspan x="116" class="t">long</tspan><tspan x="136" class="t">NOT NULL</tspan><tspan x="173" class="d">No default value</tspan><tspan x="210" class="d">Comment</tspan></text>
</g>
<text class="ti" x="120.5" y="15">ordercheck</text>
</g>
</svg>
